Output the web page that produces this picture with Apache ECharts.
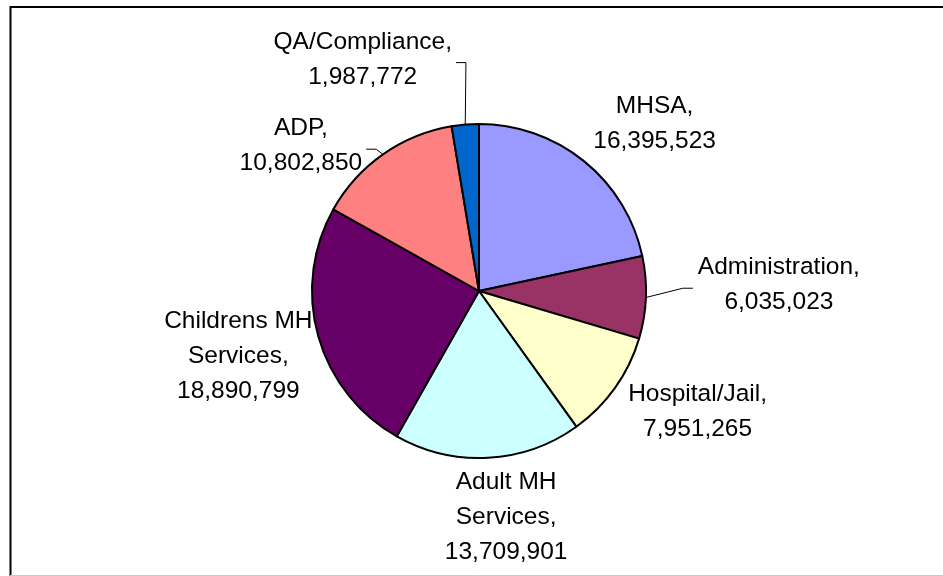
<!DOCTYPE html>
<html>
<head>
<meta charset="utf-8">
<title>Budget by program</title>
<script src="https://cdn.jsdelivr.net/npm/echarts@6/dist/echarts.min.js"></script>
<style>
  html, body { margin: 0; padding: 0; background: #fff; }
  #pieMap { width: 943px; height: 576px; }
</style>
</head>
<body>
<div id="pieMap"></div>
<script>
// slices, clockwise from 12 o'clock
var programNames = ['MHSA', 'Administration', 'Hospital/Jail', 'Adult MH Services', 'Childrens MH Services', 'ADP', 'QA/Compliance'];
var programAmounts = [16395523, 6035023, 7951265, 13709901, 18890799, 10802850, 1987772];
var sliceColors = ['#9999FF', '#993366', '#FFFFCC', '#CCFFFF', '#660066', '#FF8080', '#0066CC'];

// labels that sit away from the pie get a leader line
var hasLeader = [false, true, false, false, false, true, true];
// small label shifts (px) on top of the default placement
var labelNudge = [[3, 0], [42, -15], [5, -12], [11, 2], [4, -8], [-15, 30], [-87, -25]];

var pieCx = 479, pieCy = 291, pieR = 167;

// mid angle of every slice (radians, clockwise from top)
var total = programAmounts.reduce(function(a, b) { return a + b; }, 0);
var midAngle = [];
var acc = 0;
programAmounts.forEach(function(v) {
  midAngle.push(((acc + v / 2) / total) * Math.PI * 2);
  acc += v;
});

function clamp1(t) {
  return Math.max(-1, Math.min(1, t));
}

function fmtNum(v) {
  return String(v).replace(/\B(?=(\d{3})+(?!\d))/g, ',');
}

function pieChart(id) {
  var data = programNames.map(function(name, i) {
    return {
      name: name,
      value: programAmounts[i],
      itemStyle: { color: sliceColors[i] },
      labelLine: { show: hasLeader[i] },
    };
  });

  var option = {
    backgroundColor: '#FFFFFF',
    animation: false,
    graphic: [
      {
        type: 'rect',
        silent: true,
        shape: { x: 10.5, y: 7, width: 980, height: 640 },
        style: { fill: 'none', stroke: '#000', lineWidth: 2 },
      },
      {
        type: 'line',
        silent: true,
        shape: { x1: 10, y1: 575.5, x2: 943, y2: 575.5 },
        style: { stroke: '#c8c8c8', lineWidth: 1 },
      },
    ],
    series: [
      {
        type: 'pie',
        center: [pieCx, pieCy],
        radius: pieR,
        startAngle: 90,
        clockwise: true,
        avoidLabelOverlap: false,
        itemStyle: {
          borderColor: '#000',
          borderWidth: 2,
        },
        emphasis: { disabled: true },
        label: {
          show: true,
          position: 'outside',
          formatter: function(params) {
            var name = params.name.replace(' Services', '\nServices');
            var lines = (name + ',\n' + fmtNum(params.value)).split('\n');
            return lines.map(function(l) { return '{c|' + l + '}'; }).join('\n');
          },
          rich: {
            c: {
              align: 'center',
              fontSize: 24.5,
              lineHeight: 35,
              color: '#000',
              fontFamily: 'Liberation Sans, Arial, sans-serif',
            },
          },
        },
        labelLine: {
          show: true,
          lineStyle: { color: '#000', width: 1 },
        },
        labelLayout: function(params) {
          var i = params.dataIndex;
          var dx = Math.sin(midAngle[i]);
          var dy = -Math.cos(midAngle[i]);
          var ex = pieCx + pieR * dx;
          var ey = pieCy + pieR * dy;
          var w = params.labelRect.width;
          var h = params.labelRect.height;
          var cx = ex + 10 * dx + (w / 2) * clamp1(2 * dx) + labelNudge[i][0];
          var cy = ey + 10 * dy + (h / 2) * clamp1(2 * dy) + labelNudge[i][1];
          var out = { x: cx, y: cy, align: 'center', verticalAlign: 'middle', hideOverlap: false };
          if (hasLeader[i]) {
            var side = cx > pieCx ? -1 : 1;
            var px = side > 0 ? cx + w / 2 + 4 : cx - w / 2 - 5;
            out.labelLinePoints = [[ex, ey], [px + side * 10, cy + 3], [px, cy + 3]];
          }
          return out;
        },
        data: data,
      },
    ],
  };
  var Chart = echarts.init(document.getElementById(id));
  Chart.setOption(option, true);
}

pieChart('pieMap');
</script>
</body>
</html>
